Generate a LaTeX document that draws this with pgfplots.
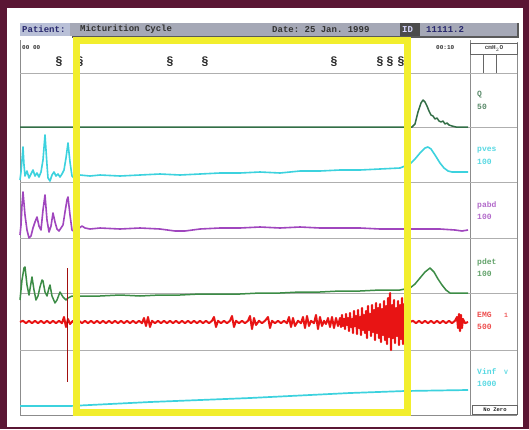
\documentclass[border=0pt]{standalone}
\usepackage{pgfplots}
\pgfplotsset{compat=1.18}
\usepackage{fontspec}
\setmonofont{Liberation Mono}
\definecolor{bgm}{RGB}{90,22,52}
\definecolor{barg}{RGB}{165,168,182}
\definecolor{barl}{RGB}{185,192,215}
\definecolor{bartx}{RGB}{40,40,110}
\definecolor{gq}{RGB}{50,110,70}
\definecolor{cy}{RGB}{60,210,222}
\definecolor{pu}{RGB}{160,70,190}
\definecolor{gd}{RGB}{60,140,70}
\definecolor{rd}{RGB}{232,20,20}
\definecolor{gr}{RGB}{175,175,175}
\definecolor{yl}{RGB}{242,238,45}
\tikzset{
  hd/.style={anchor=west, font=\ttfamily\bfseries\fontsize{9}{9}\selectfont, inner sep=0pt},
  lb/.style={anchor=west, font=\ttfamily\bfseries\fontsize{8}{8}\selectfont, inner sep=0pt},
  ev/.style={font=\ttfamily\bfseries\fontsize{12}{12}\selectfont, text=black!85, inner sep=0pt},
}
\begin{document}
\begin{tikzpicture}
\begin{axis}[
  width=529pt, height=429pt, scale only axis,
  xmin=0, xmax=529, ymin=0, ymax=429, y dir=reverse,
  hide axis, clip=false,
  every axis plot/.append style={line join=round},
]
% background and panel
\fill[bgm] (axis cs:0,0) rectangle (axis cs:529,429);
\fill[white] (axis cs:7,8) rectangle (axis cs:523,427);
% header bar
\fill[barg] (axis cs:20,23) rectangle (axis cs:518,36);
\fill[barl] (axis cs:20,23) rectangle (axis cs:70,36);
\fill[black!70] (axis cs:400,23) rectangle (axis cs:420,36);
\draw[black!65, line width=1.2pt] (axis cs:72,37) -- (axis cs:518,37) -- (axis cs:518,23);
\node[hd, text=bartx] at (axis cs:22,29.5) {Patient:};
\node[hd, text=black!80] at (axis cs:80,29.5) {Micturition Cycle};
\node[hd, text=black!80] at (axis cs:272,29.5) {Date: 25 Jan. 1999};
\node[hd, text=white!85!blue] at (axis cs:402,29.5) {ID};
\node[hd, text=bartx] at (axis cs:426,29.5) {11111.2};
% grid frame
\draw[black!45, line width=0.9pt] (axis cs:20,40) -- (axis cs:20,415) -- (axis cs:517,415);
\draw[black!45, line width=0.9pt] (axis cs:470,40) -- (axis cs:470,415);
\draw[black!45, line width=0.9pt] (axis cs:517,42) -- (axis cs:517,415);
\draw[gr, line width=0.9pt] (axis cs:20,73) -- (axis cs:517,73);
\draw[gr, line width=0.9pt] (axis cs:20,127) -- (axis cs:517,127);
\draw[gr, line width=0.9pt] (axis cs:20,182) -- (axis cs:517,182);
\draw[gr, line width=0.9pt] (axis cs:20,238) -- (axis cs:517,238);
\draw[gr, line width=0.9pt] (axis cs:20,293) -- (axis cs:517,293);
\draw[gr, line width=0.9pt] (axis cs:20,350) -- (axis cs:517,350);
% top right cells
\draw[black!60, line width=0.8pt] (axis cs:470,43) rectangle (axis cs:517,54);
\draw[black!60, line width=0.8pt] (axis cs:483,54) -- (axis cs:483,73);
\draw[black!60, line width=0.8pt] (axis cs:496,54) -- (axis cs:496,73);
\node[font=\ttfamily\bfseries\fontsize{6}{6}\selectfont, text=black!75, inner sep=0pt] at (axis cs:494,48.5) {cmH$_2$O};
\node[lb, font=\ttfamily\bfseries\fontsize{6}{6}\selectfont, text=black!80] at (axis cs:22,48) {00 00};
\node[lb, font=\ttfamily\bfseries\fontsize{6}{6}\selectfont, text=black!80] at (axis cs:436,48) {00:10};
% event markers
\node[ev] at (axis cs:59,62) {\S};
\node[ev] at (axis cs:80,62) {\S};
\node[ev] at (axis cs:170,62) {\S};
\node[ev] at (axis cs:205,62) {\S};
\node[ev] at (axis cs:334,62) {\S};
\node[ev] at (axis cs:380,62) {\S};
\node[ev] at (axis cs:390,62) {\S};
\node[ev] at (axis cs:401,62) {\S};
% channel labels
\node[lb, text=gq!80] at (axis cs:477,95) {Q};
\node[lb, text=gq!80] at (axis cs:477,107) {50};
\node[lb, text=cy!85] at (axis cs:477,150) {pves};
\node[lb, text=cy!85] at (axis cs:477,162) {100};
\node[lb, text=pu!80] at (axis cs:477,205) {pabd};
\node[lb, text=pu!80] at (axis cs:477,217) {100};
\node[lb, text=gd!80] at (axis cs:477,262) {pdet};
\node[lb, text=gd!80] at (axis cs:477,274) {100};
\node[lb, text=rd!75] at (axis cs:477,315) {EMG};
\node[lb, text=rd!75] at (axis cs:477,327) {500};
\node[lb, text=cy!85] at (axis cs:477,372) {Vinf};
\node[lb, text=cy!85] at (axis cs:477,384) {1000};
\node[lb, font=\ttfamily\bfseries\fontsize{6.5}{6.5}\selectfont, text=rd!70] at (axis cs:504,315) {1};
\node[lb, font=\ttfamily\bfseries\fontsize{6.5}{6.5}\selectfont, text=cy!80] at (axis cs:504,372) {V};
\draw[black!60, line width=0.8pt] (axis cs:472,405) rectangle (axis cs:517,414);
\node[font=\ttfamily\bfseries\fontsize{5.5}{5.5}\selectfont, text=black!85, inner sep=0pt] at (axis cs:495,409.5) {No Zero};

% ---- traces ----
% Qura
\addplot[gq, line width=1.5pt] coordinates {
(20,127) (412,127) (415,124) (418,112) (421,103) (423,100) (425,102) (427,106) (429,111) (431,115) (433,116) (435,119) (437,118) (439,121) (441,122) (443,121) (445,124) (447,123) (449,125) (452,126) (456,127) (468,127)};
% pves
\addplot[cy, line width=1.6pt] coordinates {
(20,180) (21,172) (22,160) (23,147) (24,165) (25,176) (27,171) (29,178) (31,174) (33,170) (35,176) (37,173) (39,177) (41,172) (43,160) (45,135) (47,165) (48,178) (50,181) (52,175) (54,172) (56,176) (58,174) (60,177) (62,174) (64,170) (66,158) (68,143) (70,162) (72,176) (74,178) (76,176) (80,175) (90,176) (100,175) (120,176) (140,175) (160,174) (180,175) (200,174) (220,173) (240,173) (260,172) (280,173) (300,171) (320,171) (340,170) (360,170) (380,169) (400,168) (410,164) (415,159) (420,153) (425,148) (428,147) (431,149) (435,155) (440,163) (444,168) (448,171) (452,172) (468,172)};
% pabd
\addplot[pu, line width=1.6pt] coordinates {
(20,235) (21,225) (22,205) (23,192) (25,215) (27,230) (29,238) (31,236) (33,228) (35,222) (37,217) (39,226) (41,230) (43,210) (45,195) (47,220) (49,232) (51,226) (53,213) (55,222) (57,229) (59,231) (61,228) (63,225) (65,212) (67,200) (68,197) (70,215) (72,230) (75,232) (78,229) (82,226) (85,228) (90,229) (100,228) (120,229) (140,228) (160,229) (175,231) (185,231) (200,229) (220,228) (240,228) (260,227) (280,228) (300,227) (320,228) (340,228) (360,228) (380,229) (400,229) (420,229) (440,229) (455,230) (462,231) (468,230)};
% pdet
\addplot[gd, line width=1.5pt] coordinates {
(20,300) (22,280) (24,268) (25,267) (27,285) (29,295) (31,283) (32,277) (34,290) (36,300) (38,296) (40,287) (42,280) (43,281) (45,292) (47,296) (49,288) (50,285) (52,296) (55,303) (57,300) (60,292) (63,297) (66,300) (68,298) (72,296) (80,296) (100,296) (120,295) (140,296) (160,295) (180,295) (200,294) (220,294) (240,294) (260,293) (280,293) (300,292) (320,292) (340,291) (360,291) (380,290) (400,290) (410,288) (415,284) (420,278) (425,272) (430,268) (434,272) (438,279) (442,285) (446,290) (450,293) (468,293)};
% EMG
\addplot[rd, line width=2pt] coordinates {
(20,322) (23,320.8) (26,323.2) (29,320.8) (32,323.2) (35,320.8) (38,323.2) (41,320.8) (44,323.2) (47,320.8) (50,323.2) (53,320.8) (56,323.2) (59,320.8) (62,323.2) (64,317) (66,327) (68,319) (70,324)
(73,320.8) (76,323.2) (79,320.8) (82,323.2) (85,320.8) (88,323.2) (91,320.8) (94,323.2) (97,320.8) (100,323.2) (103,320.8) (106,323.2) (109,320.8) (112,323.2) (115,320.8) (118,323.2) (121,320.8) (124,323.2) (127,320.8) (130,323.2) (133,320.8) (136,323.2) (139,320.8) (142,323.2) (144,318) (146,326) (148,317) (150,327) (152,320.8) (155,323.2) (158,320.8) (161,323.2) (164,320.8) (167,323.2) (170,320.8) (173,323.2) (176,320.8) (179,323.2) (182,320.8) (185,323.2) (188,320.8) (191,323.2) (194,320.8) (197,323.2) (200,320.8) (203,323.2) (206,320.8) (209,323.2) (212,320.8) (214,317) (216,327) (218,320.8) (221,323.2) (224,320.8) (227,323.2) (230,320.8) (232,316) (234,327) (236,320.8) (239,323.2) (242,320.8) (245,323.2) (248,320.8) (250,316) (252,329) (254,318) (256,325) (259,320.8) (262,323.2) (265,320.8) (268,317) (270,328) (272,320.8) (275,323.2) (278,320.8) (281,323.2) (284,320.8) (287,323.2) (289,317) (291,327) (293,318) (295,326) (298,320.8) (301,323.2) (303,317) (305,328) (307,316) (309,326) (311,320.8) (314,323.2) (316,315) (318,329) (320,317) (322,326) (324,320.8) (326,324) (328,318) (330,327) (332,317) (334,328) (336,318) (338,326)
(340,318) (341,327) (342,315) (343,326) (344,319) (345,329) (346,314) (347,325) (348,318) (349,331) (350,313) (351,327) (352,319) (353,333) (354,311) (355,326) (356,316) (357,334) (358,310) (359,328) (360,317) (361,335) (362,308) (363,330) (364,315) (365,333) (366,311) (367,338) (368,306) (369,330) (370,314) (371,336) (372,305) (373,332) (374,310) (375,340) (376,303) (377,333) (378,308) (379,338) (380,304) (381,342) (382,309) (383,335) (384,301) (385,340) (386,306) (387,344) (388,298) (389,337) (390,293) (391,350) (392,305) (393,338) (394,300) (395,343) (396,308) (397,336) (398,301) (399,345) (400,305) (401,339) (402,298) (403,344) (404,304) (405,340) (406,296) (407,346) (408,308) (409,334) (410,322)
(413,320.8) (416,323.2) (419,320.8) (422,323.2) (425,320.8) (428,323.2) (431,320.8) (434,323.2) (437,320.8) (440,323.2) (443,320.8) (446,323.2) (449,320.8) (452,323.2) (455,320.8) (457,317) (458,328) (459,314) (460,331) (461,315) (462,328) (463,319) (465,323.2) (468,322)};
\addplot[rd!70!black, line width=0.8pt] coordinates {(67,268) (67,382)};
% Vinfus
\addplot[cy, line width=1.7pt] coordinates {
(20,406) (70,406) (150,402) (250,398) (350,393) (405,391) (468,390)};
% yellow highlight box
\draw[yl, line width=7pt] (axis cs:76,40) rectangle (axis cs:407,412);
\end{axis}
\end{tikzpicture}
\end{document}
